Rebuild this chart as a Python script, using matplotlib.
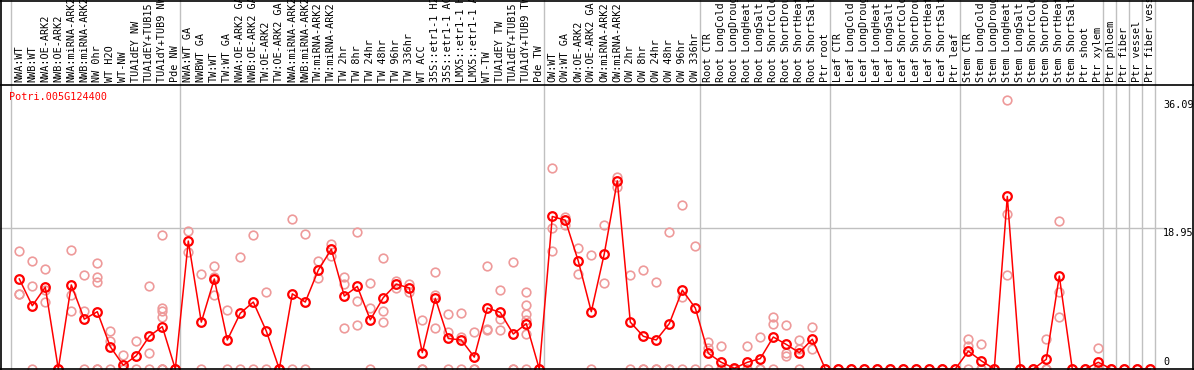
#!/usr/bin/env python3
"""
Expression profile of Potri.005G124400 across poplar samples.
Mean per sample (red line) with the replicate values (pale circles).
"""
import matplotlib
matplotlib.use("Agg")
import matplotlib.pyplot as plt
import matplotlib.transforms as mtransforms
from matplotlib.lines import Line2D

GENE = "Potri.005G124400"

# sample labels, grouped by experiment
group_wood_nw = ["NWA:WT", "NWB:WT", "NWA:OE-ARK2", "NWB:OE-ARK2", "NWA:miRNA-ARK2",
                 "NWB:miRNA-ARK2", "NW 0hr", "WT H2O", "WT-NW", "TUA1dEY NW",
                 "TUA1dEY+TUB15", "TUA1dY+TUB9 NW", "Pde NW"]
group_wood_tw = ["NWA:WT GA", "NWBWT GA", "TW:WT", "TW:WT GA", "NWA:OE-ARK2 GA",
                 "NWB:OE-ARK2 GA", "TW:OE-ARK2", "TW:OE-ARK2 GA", "NWA:miRNA-ARK2",
                 "NWB:miRNA-ARK2", "TW:miRNA-ARK2", "TW:miRNA-ARK2", "TW 2hr", "TW 8hr",
                 "TW 24hr", "TW 48hr", "TW 96hr", "TW 336hr", "WT ACC", "35S::etr1-1 H2O",
                 "35S::etr1-1 ACC", "LMX5::etr1-1 H2O", "LMX5::etr1-1 ACC", "WT-TW",
                 "TUA1dEY TW", "TUA1dEY+TUB15", "TUA1dY+TUB9 TW", "Pde TW"]
group_wood_ow = ["OW:WT", "OW:WT GA", "OW:OE-ARK2", "OW:OE-ARK2 GA", "OW:miRNA-ARK2",
                 "OW:miRNA-ARK2", "OW 2hr", "OW 8hr", "OW 24hr", "OW 48hr", "OW 96hr",
                 "OW 336hr"]
group_root = ["Root CTR", "Root LongCold", "Root LongDrought", "Root LongHeat",
              "Root LongSalt", "Root ShortCold", "Root ShortDrought", "Root ShortHeat",
              "Root ShortSalt", "Ptr root"]
group_leaf = ["Leaf CTR", "Leaf LongCold", "Leaf LongDrought", "Leaf LongHeat",
              "Leaf LongSalt", "Leaf ShortCold", "Leaf ShortDrought", "Leaf ShortHeat",
              "Leaf ShortSalt", "Ptr leaf"]
group_stem = ["Stem CTR", "Stem LongCold", "Stem LongDrought", "Stem LongHeat",
              "Stem LongSalt", "Stem ShortCold", "Stem ShortDrought", "Stem ShortHeat",
              "Stem ShortSalt", "Ptr shoot", "Ptr xylem"]
group_phloem = ["Ptr phloem"]
group_fiber = ["Ptr fiber"]
group_vessel = ["Ptr vessel"]
group_fibervessel = ["Ptr fiber vessel"]

groups = [group_wood_nw, group_wood_tw, group_wood_ow, group_root, group_leaf,
          group_stem, group_phloem, group_fiber, group_vessel, group_fibervessel]
labels = [s for g in groups for s in g]

# mean expression per sample
mean_nw = [12.1, 8.5, 11.0, 0, 11.3, 6.7, 7.7, 3.0, 0.5, 1.8, 4.4, 5.7, 0]
mean_tw = [17.2, 6.3, 12.1, 3.9, 7.5, 9.0, 5.1, 0, 10.1, 9.0, 13.3, 16.1, 9.8, 11.1,
           6.6, 9.6, 11.4, 10.9, 2.2, 9.5, 4.1, 3.9, 1.6, 8.2, 7.6, 4.7, 6.1, 0]
mean_ow = [20.5, 20.0, 14.5, 7.7, 15.5, 25.3, 6.3, 4.4, 3.9, 6.1, 10.6, 8.2]
mean_root = [2.1, 0.9, 0.1, 0.9, 1.4, 4.3, 3.3, 2.2, 4.0, 0]
mean_leaf = [0, 0, 0, 0, 0, 0, 0, 0, 0, 0]
mean_stem = [2.4, 1.1, 0, 23.2, 0, 0, 1.3, 12.5, 0, 0, 0.9]
mean_ptr = [0, 0, 0, 0]
means = mean_nw + mean_tw + mean_ow + mean_root + mean_leaf + mean_stem + mean_ptr

# replicate values per sample
reps_nw = [[15.8, 10.1, 10.1], [14.5, 11.2, 0], [13.4, 10.6, 9.0], [0, 0, 0],
           [15.95, 9.95, 7.8], [12.6, 7.8, 0], [14.25, 12.4, 11.65, 0, 0],
           [5.1, 3.76, 0], [1.83, 0, 0, 0], [3.76, 0], [11.2, 2.1, 0],
           [18.0, 8.15, 7.84, 6.94, 0, 0, 0], [0, 0]]
reps_tw = [[18.5, 15.7], [12.8, 0], [13.8, 12.4, 9.95], [7.93, 0], [15.05, 0],
           [18.0, 0], [10.35, 0], [0, 0], [20.2, 0], [18.1, 0], [14.5, 12.2],
           [16.8, 15.2], [12.4, 11.4, 5.5], [18.4, 9.2, 5.87], [11.55, 8.15, 0],
           [14.9, 7.75, 6.27], [11.8, 10.9], [11.4, 10.35], [6.59, 0, 0],
           [13.0, 10.0, 5.5], [7.4, 4.97, 0], [7.5, 4.35, 0], [4.97, 0, 0],
           [13.9, 5.38, 5.24], [10.6, 6.67, 5.24], [14.4, 0, 0],
           [10.35, 8.6, 7.4, 6.59, 4.66, 0], [0, 0]]
reps_ow = [[27.0, 18.95, 15.8], [20.4, 19.4], [16.3, 12.8], [15.3, 0], [19.4, 11.5],
           [25.8, 24.5], [12.6, 0], [13.3, 0, 0], [11.65, 0, 0], [18.4, 0, 0],
           [22.1, 9.63, 0], [16.5, 0]]
reps_root = [[3.63, 2.82, 0], [3.05, 0, 0], [0, 0], [3.05, 0, 0], [4.25, 0, 0],
             [6.94, 6.05, 0], [5.87, 2.1, 1.8], [3.9, 2.73, 0], [5.6, 2.64], [0, 0]]
reps_leaf = [[0, 0]] * 10
reps_stem = [[4.03, 3.13, 0], [3.31, 0, 0], [0, 0], [36.09, 20.8, 12.7], [0, 0],
             [0, 0], [4.03, 0, 0], [19.85, 10.4, 6.94], [0, 0], [0, 0], [2.78, 0, 0]]
reps_ptr = [[0, 0]] * 4
reps = reps_nw + reps_tw + reps_ow + reps_root + reps_leaf + reps_stem + reps_ptr

YMAX = 36.09
YMID = 18.95

# pixel layout of the original image
W, H = 1194, 370
X0, DX = 19.3, 13.0      # first sample centre, sample spacing (px)
Y0, PXU = 369.0, 7.44    # zero line (px from top), px per unit
TOP = 85.0               # separator between labels and plot


def main():
    fig = plt.figure(figsize=(W / 100, H / 100), dpi=100)
    ax = fig.add_axes([0, 0, 1, 1])
    ax.set_xlim(-X0 / DX, (W - X0) / DX)
    # data y -> pixel from top: Y0 - PXU * v
    ax.set_ylim((Y0 - H) / PXU, Y0 / PXU)
    ax.axis("off")

    mono = "DejaVu Sans Mono"
    xpix = lambda px: (px - X0) / DX
    ypix = lambda py: (Y0 - py) / PXU

    # group separators, running through the label area
    edge = 0
    bounds = [0]
    for g in groups:
        edge += len(g)
        bounds.append(edge)
    for b in bounds:
        xb = xpix(10.5 + DX * b)
        ax.add_line(Line2D([xb, xb], [ypix(H), ypix(0)], color="#c0c0c0", lw=1, zorder=1))

    ax.add_line(Line2D([xpix(0), xpix(1165)], [YMID, YMID], color="#c0c0c0", lw=1, zorder=1))

    # frame
    for xs, ys in [([0, W], [0.5, 0.5]), ([0, W], [TOP, TOP]), ([0, W], [369.3, 369.3]),
                   ([1.2, 1.2], [0, H]), ([1193.3, 1193.3], [0, H])]:
        ax.add_line(Line2D([xpix(x) for x in xs], [ypix(y) for y in ys],
                           color="black", lw=1.2, zorder=5))

    # replicates
    for i, vals in enumerate(reps):
        ax.plot([i] * len(vals), vals, linestyle="none", marker="o", ms=6.2,
                mfc="none", mec="#ee9a9a", mew=1.2, zorder=2)

    # means
    x = list(range(len(means)))
    ax.plot(x, means, color="red", lw=1.1, marker="o", ms=6.2, mfc="none",
            mec="red", mew=1.6, zorder=3)

    # sample labels, rotated, bottom aligned just above the separator
    for i, lab in enumerate(labels):
        ax.text(i, ypix(TOP - 3), lab, rotation=90, ha="center", va="bottom",
                family=mono, fontsize=7.3, color="black", clip_on=True, zorder=4)

    ax.text(xpix(9), ypix(97), GENE, ha="left", va="center", family=mono,
            fontsize=7.3, color="red")

    for v, lab in [(YMAX, "36.09"), (YMID, "18.95")]:
        ax.text(xpix(1163), ypix(Y0 - PXU * v + 5), lab, ha="left", va="center",
                family=mono, fontsize=7.3, color="black")
    ax.text(xpix(1163), ypix(362), "0", ha="left", va="center", family=mono,
            fontsize=7.3, color="black")

    fig.savefig("out.png", dpi=100)


if __name__ == "__main__":
    main()
